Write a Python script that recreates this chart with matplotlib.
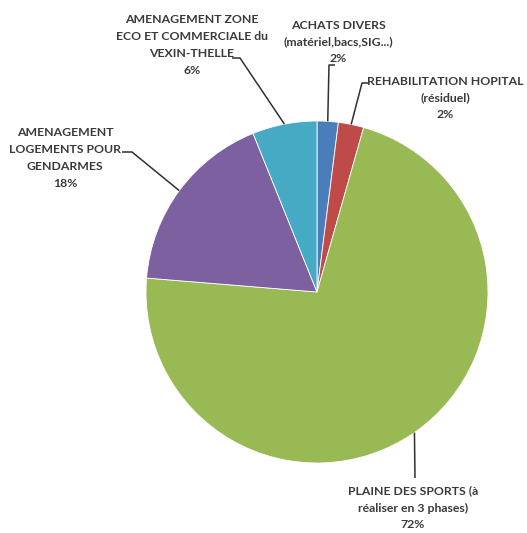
import numpy as np
import matplotlib.pyplot as plt

labels = ["ACHATS DIVERS\n(matériel,bacs,SIG...)",
          "REHABILITATION HOPITAL\n(résiduel)",
          "PLAINE DES SPORTS (à\nréaliser en 3 phases)",
          "AMENAGEMENT\nLOGEMENTS POUR\nGENDARMES",
          "AMENAGEMENT ZONE\nECO ET COMMERCIALE du\nVEXIN-THELLE"]
values = [2.0, 2.4, 71.9, 17.6, 6.1]
colors = ["#4a7ebb", "#be4b48", "#98b954", "#7d60a0", "#46aac5"]

W, H = 527, 533
fig = plt.figure(figsize=(W / 100, H / 100), dpi=100)
ax = fig.add_axes([0, 0, 1, 1])

cx, cy, r = 317, H - 292, 171
wedges, _ = ax.pie(values, colors=colors, startangle=90, counterclock=False,
                   center=(cx, cy), radius=r, frame=True,
                   wedgeprops=dict(linewidth=0.6, edgecolor="white"))
ax.set_xlim(0, W)
ax.set_ylim(0, H)
ax.axis("off")

# label centre (image px), leader elbow (image px)
label_pos = [(338, 42), (445, 98), (413, 508), (65, 158), (192, 45)]
elbows = [[(335, 65), (329, 65)],
          [(368, 83), (362, 83)],
          [(415, 478)],
          [(122, 152), (132, 152)],
          [(232, 58), (240, 58)]]

total = sum(values)
for w, lab, v, (lx, ly), el in zip(wedges, labels, values, label_pos, elbows):
    mid = np.deg2rad((w.theta1 + w.theta2) / 2)
    ex, ey = cx + r * np.cos(mid), cy + r * np.sin(mid)
    pts = [(x, H - y) for x, y in el] + [(ex, ey)]
    xs, ys = zip(*pts)
    ax.plot(xs, ys, color="#303030", lw=1.1, solid_capstyle="butt")
    pct = round(v / total * 100)
    ax.text(lx, H - ly, f"{lab}\n{pct}%", ha="center", va="center",
            fontsize=8.8, fontfamily="Lato", fontweight="bold", color="#3a3a3a",
            linespacing=1.65)

fig.savefig("out.png", dpi=100)
